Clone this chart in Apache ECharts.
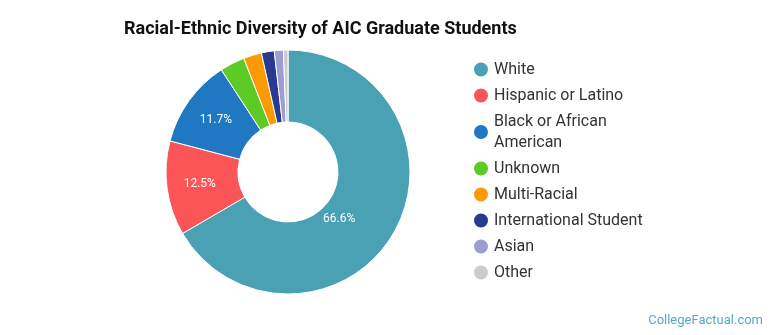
<!DOCTYPE html>
<html><head><meta charset="utf-8">
<script src="https://cdn.jsdelivr.net/npm/echarts@6/dist/echarts.min.js"></script>
<style>html,body{margin:0;padding:0;background:#fff}#c{width:770px;height:335px}</style>
</head><body><div id="c"></div>
<script>
const categories = ["White","Hispanic or Latino","Black or African\nAmerican","Unknown","Multi-Racial","International Student","Asian","Other"];
const values = [66.6,12.5,11.7,3.3,2.4,1.7,1.2,0.6];
const colors = ["#4aa1b3","#fc5558","#1f78c1","#5dcb25","#fb9a05","#2b3990","#9d9dd1","#cccccc"];
const chart = echarts.init(document.getElementById('c'));
chart.setOption({
  animation:false,
  title:{text:"Racial-Ethnic Diversity of AIC Graduate Students",left:119,top:15,
    textStyle:{fontFamily:"Roboto",fontWeight:"bold",fontSize:18,color:"#111"}},
  graphic:[{type:'text',right:7,bottom:8,style:{text:"CollegeFactual.com",fill:"#5aa8c2",font:"13px Roboto"}}],
  legend:{orient:'vertical',left:467,top:54,itemGap:5,icon:'circle',itemWidth:16,itemHeight:16,
    textStyle:{fontFamily:"Roboto",fontSize:16,color:"#333",lineHeight:21},
    data:categories},
  series:[{type:'pie',center:[288,172],radius:[50,122],startAngle:90,clockwise:true,
    itemStyle:{borderColor:'#fff',borderWidth:1},
    label:{show:true,position:'inside',color:'#fff',fontFamily:"Roboto",fontSize:12,
      formatter:p=>p.value>=5?p.value.toFixed(1)+'%':''},
    labelLine:{show:false},
    data:categories.map((n,i)=>({name:n,value:values[i],itemStyle:{color:colors[i]},
      label:i===0?{offset:[-26,3]}:{}}))
  }]
});
</script></body></html>
